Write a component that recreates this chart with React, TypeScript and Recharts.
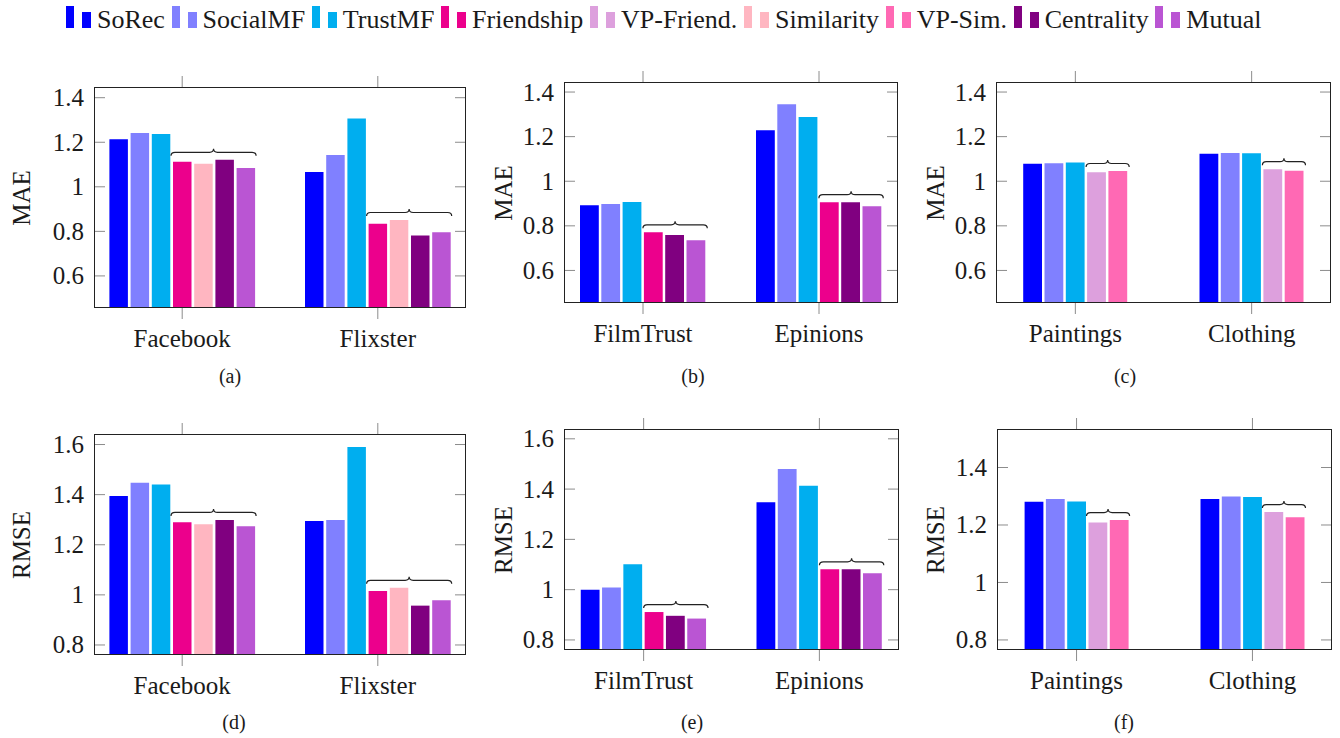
import React from "react";
import { BarChart, Bar, XAxis, YAxis, ReferenceDot } from "recharts";

const FONT = "Liberation Serif, Tinos, DejaVu Serif, Times New Roman, serif";
const INK = "#1a1a1a";
const TICK = "#8c8c8c";

const legendNames = [
  "SoRec",
  "SocialMF",
  "TrustMF",
  "Friendship",
  "VP-Friend.",
  "Similarity",
  "VP-Sim.",
  "Centrality",
  "Mutual",
];

const colors: Record<string, string> = {
  SoRec: "#0000ff",
  SocialMF: "#8080ff",
  TrustMF: "#00aeef",
  Friendship: "#ec008c",
  "VP-Friend.": "#dda0dd",
  Similarity: "#ffb6c1",
  "VP-Sim.": "#ff69b4",
  Centrality: "#800080",
  Mutual: "#ba55d3",
};

// series shown in each kind of panel (first three are baselines)
const socialSeries = ["SoRec", "SocialMF", "TrustMF", "Friendship", "Similarity", "Centrality", "Mutual"];
const trustSeries = ["SoRec", "SocialMF", "TrustMF", "Friendship", "Centrality", "Mutual"];
const vpSeries = ["SoRec", "SocialMF", "TrustMF", "VP-Friend.", "VP-Sim."];

const socialCats = ["Facebook", "Flixster"];
const trustCats = ["FilmTrust", "Epinions"];
const vpCats = ["Paintings", "Clothing"];

// (a) MAE
const maeFacebook = [1.213, 1.242, 1.237, 1.112, 1.103, 1.121, 1.084];
const maeFlixster = [1.066, 1.143, 1.307, 0.834, 0.851, 0.781, 0.796];
// (b) MAE
const maeFilmTrust = [0.892, 0.898, 0.907, 0.771, 0.759, 0.735];
const maeEpinions = [1.229, 1.345, 1.288, 0.906, 0.906, 0.888];
// (c) MAE
const maePaintings = [1.078, 1.081, 1.084, 1.04, 1.046];
const maeClothing = [1.123, 1.127, 1.126, 1.054, 1.047];
// (d) RMSE
const rmseFacebook = [1.395, 1.447, 1.44, 1.29, 1.282, 1.299, 1.274];
const rmseFlixster = [1.295, 1.299, 1.59, 1.015, 1.028, 0.957, 0.979];
// (e) RMSE
const rmseFilmTrust = [1.0, 1.009, 1.101, 0.911, 0.896, 0.885];
const rmseEpinions = [1.348, 1.48, 1.413, 1.081, 1.081, 1.065];
// (f) RMSE
const rmsePaintings = [1.281, 1.29, 1.282, 1.209, 1.217];
const rmseClothing = [1.29, 1.299, 1.297, 1.245, 1.227];

const maeTicks = [0.6, 0.8, 1, 1.2, 1.4];
const rmseTicks = [0.8, 1, 1.2, 1.4, 1.6];
const rmseTicksShort = [0.8, 1, 1.2, 1.4];

const AX = 60;
const TOP = 15;
const RIGHT = 5;
const XH = 50;

type PanelProps = {
  frame: { l: number; t: number; r: number; b: number };
  pad: number;
  cats: string[];
  series: string[];
  values: number[][];
  domain: [number, number];
  ticks: number[];
  yLabel: string;
  labelX: number;
  caption: string;
  capX: number;
  capY: number;
  barSize: number;
  gap: number;
};

function bracePath(x1: number, x2: number, yb: number) {
  const h = 7;
  const q = 4;
  const xm = (x1 + x2) / 2;
  const ym = yb - h / 2;
  return (
    `M${x1},${yb} Q${x1},${ym} ${x1 + q},${ym} L${xm - q},${ym} ` +
    `Q${xm},${ym} ${xm},${yb - h} Q${xm},${ym} ${xm + q},${ym} ` +
    `L${x2 - q},${ym} Q${x2},${ym} ${x2},${yb}`
  );
}

function Panel(p: PanelProps) {
  const fw = p.frame.r - p.frame.l;
  const fh = p.frame.b - p.frame.t;
  const band = (fw - 2 * p.pad) / 2;
  const n = p.series.length;
  const total = n * p.barSize + (n - 1) * p.gap;
  const offset = Math.trunc((band - total) / 2);

  const data = p.cats.map((c, i) => {
    const row: Record<string, any> = { cat: c };
    p.series.forEach((s, j) => (row[s] = p.values[i][j]));
    return row;
  });

  const yTick = (props: any) => {
    const { x, y, payload } = props;
    return (
      <g>
        <line x1={x} x2={x + 11} y1={y} y2={y} stroke={TICK} />
        <line x1={x + fw - 11} x2={x + fw} y1={y} y2={y} stroke={TICK} />
        <text x={x - 10} y={y + 8.5} textAnchor="end" fontFamily={FONT} fontSize={25} fill={INK}>
          {String(payload.value)}
        </text>
      </g>
    );
  };

  const xTick = (props: any) => {
    const { x, y, payload } = props;
    return (
      <g>
        <line x1={x} x2={x} y1={y} y2={y + 11} stroke={TICK} />
        <line x1={x} x2={x} y1={y - fh - 11} y2={y - fh} stroke={TICK} />
        <text x={x} y={y + 38.5} textAnchor="middle" fontFamily={FONT} fontSize={25} fill={INK}>
          {payload.value}
        </text>
      </g>
    );
  };

  return (
    <>
      <div style={{ position: "absolute", left: p.frame.l - AX, top: p.frame.t - TOP }}>
        <BarChart
          width={AX + fw + RIGHT}
          height={TOP + fh + XH}
          data={data}
          margin={{ top: TOP, right: RIGHT, bottom: 0, left: 0 }}
          barGap={p.gap}
          barSize={p.barSize}
        >
          <XAxis
            dataKey="cat"
            interval={0}
            axisLine={false}
            tickLine={false}
            tickSize={0}
            tickMargin={0}
            height={XH}
            padding={{ left: p.pad, right: p.pad }}
            tick={xTick}
          />
          <YAxis
            type="number"
            domain={p.domain}
            ticks={p.ticks}
            allowDataOverflow
            axisLine={false}
            tickLine={false}
            tickSize={0}
            tickMargin={0}
            width={AX}
            tick={yTick}
          />
          {p.series.map((s) => (
            <Bar key={s} dataKey={s} fill={colors[s]} isAnimationActive={false} />
          ))}
          {p.cats.map((c, i) => {
            const own = p.values[i].slice(3);
            return (
              <ReferenceDot
                key={c}
                x={c}
                y={Math.max(...own)}
                shape={(props: any) => {
                  const start = props.cx - band / 2 + offset;
                  const x1 = start + 3 * (p.barSize + p.gap) - 1;
                  const x2 = start + total + 2;
                  return <path d={bracePath(x1, x2, props.cy - 4)} fill="none" stroke="#222" strokeWidth={1.2} />;
                }}
              />
            );
          })}
        </BarChart>
      </div>
      <div
        style={{
          position: "absolute",
          left: p.frame.l,
          top: p.frame.t,
          width: fw,
          height: fh,
          border: "1px solid #222",
          boxSizing: "border-box",
          pointerEvents: "none",
        }}
      />
      <div
        style={{
          position: "absolute",
          left: p.labelX,
          top: (p.frame.t + p.frame.b) / 2,
          transform: "translate(-50%, -50%) rotate(-90deg)",
          fontFamily: FONT,
          fontSize: 25,
          lineHeight: 1,
          color: INK,
          whiteSpace: "nowrap",
        }}
      >
        {p.yLabel}
      </div>
      <div
        style={{
          position: "absolute",
          left: p.capX,
          top: p.capY - 16.75,
          transform: "translateX(-50%)",
          fontFamily: FONT,
          fontSize: 20,
          lineHeight: 1,
          color: INK,
        }}
      >
        {p.caption}
      </div>
    </>
  );
}

function Legend() {
  return (
    <div
      style={{
        position: "absolute",
        left: 66,
        top: 6,
        fontFamily: FONT,
        fontSize: 26,
        lineHeight: 1,
        color: INK,
        whiteSpace: "nowrap",
      }}
    >
      {legendNames.map((name) => (
        <span key={name} style={{ marginRight: 6.7 }}>
          <span style={{ display: "inline-block", width: 8, height: 22, background: colors[name], marginRight: 8 }} />
          <span style={{ display: "inline-block", width: 9, height: 16, background: colors[name], marginRight: 6 }} />
          {name}
        </span>
      ))}
    </div>
  );
}

export default function App() {
  return (
    <div style={{ position: "relative", width: 1340, height: 738, background: "#fff", overflow: "hidden" }}>
      <style>{`body{margin:0}`}</style>
      <Legend />
      <Panel
        frame={{ l: 94, t: 87, r: 466, b: 308 }}
        pad={-9.6}
        cats={socialCats}
        series={socialSeries}
        values={[maeFacebook, maeFlixster]}
        domain={[0.456, 1.448]}
        ticks={maeTicks}
        yLabel="MAE"
        labelX={21}
        caption="(a)"
        capX={230}
        capY={383}
        barSize={18.5}
        gap={2.7}
      />
      <Panel
        frame={{ l: 564, t: 82, r: 898, b: 303 }}
        pad={-9}
        cats={trustCats}
        series={trustSeries}
        values={[maeFilmTrust, maeEpinions]}
        domain={[0.454, 1.445]}
        ticks={maeTicks}
        yLabel="MAE"
        labelX={503}
        caption="(b)"
        capX={693}
        capY={383}
        barSize={18.8}
        gap={2.5}
      />
      <Panel
        frame={{ l: 996, t: 82, r: 1331, b: 303 }}
        pad={-8.8}
        cats={vpCats}
        series={vpSeries}
        values={[maePaintings, maeClothing]}
        domain={[0.454, 1.445]}
        ticks={maeTicks}
        yLabel="MAE"
        labelX={935}
        caption="(c)"
        capX={1125}
        capY={383}
        barSize={18.8}
        gap={2.5}
      />
      <Panel
        frame={{ l: 94, t: 434, r: 466, b: 655 }}
        pad={-9.6}
        cats={socialCats}
        series={socialSeries}
        values={[rmseFacebook, rmseFlixster]}
        domain={[0.76, 1.642]}
        ticks={rmseTicks}
        yLabel="RMSE"
        labelX={21}
        caption="(d)"
        capX={234}
        capY={729}
        barSize={18.5}
        gap={2.7}
      />
      <Panel
        frame={{ l: 564, t: 429, r: 899, b: 650 }}
        pad={-8.25}
        cats={trustCats}
        series={trustSeries}
        values={[rmseFilmTrust, rmseEpinions]}
        domain={[0.76, 1.639]}
        ticks={rmseTicks}
        yLabel="RMSE"
        labelX={503}
        caption="(e)"
        capX={692}
        capY={729}
        barSize={18.8}
        gap={2.5}
      />
      <Panel
        frame={{ l: 997, t: 429, r: 1332, b: 650 }}
        pad={-8.4}
        cats={vpCats}
        series={vpSeries}
        values={[rmsePaintings, rmseClothing]}
        domain={[0.765, 1.534]}
        ticks={rmseTicksShort}
        yLabel="RMSE"
        labelX={935}
        caption="(f)"
        capX={1124}
        capY={729}
        barSize={18.8}
        gap={2.5}
      />
    </div>
  );
}
